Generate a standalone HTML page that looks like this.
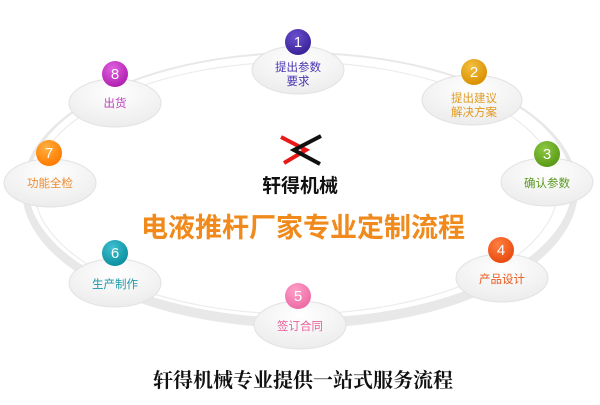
<!DOCTYPE html>
<html><head><meta charset="utf-8"><style>
html,body{margin:0;padding:0;background:#fff;}
body{width:600px;height:400px;overflow:hidden;}
</style></head><body>
<svg width="600" height="400" viewBox="0 0 600 400" xmlns="http://www.w3.org/2000/svg" font-family="Liberation Sans, Noto Sans CJK SC, sans-serif">
<defs>
<radialGradient id="eg" cx="50%" cy="30%" r="70%"><stop offset="0" stop-color="#ffffff"/><stop offset="1" stop-color="#ececec"/></radialGradient>
<radialGradient id="c1" cx="40%" cy="30%" r="70%"><stop offset="0" stop-color="#6a50d0"/><stop offset="1" stop-color="#3a2298"/></radialGradient>
<radialGradient id="c2" cx="40%" cy="30%" r="70%"><stop offset="0" stop-color="#f4c040"/><stop offset="1" stop-color="#d89000"/></radialGradient>
<radialGradient id="c3" cx="40%" cy="30%" r="70%"><stop offset="0" stop-color="#8cc840"/><stop offset="1" stop-color="#5a9a18"/></radialGradient>
<radialGradient id="c4" cx="40%" cy="30%" r="70%"><stop offset="0" stop-color="#ff8040"/><stop offset="1" stop-color="#e84a10"/></radialGradient>
<radialGradient id="c5" cx="40%" cy="30%" r="70%"><stop offset="0" stop-color="#ffa0c8"/><stop offset="1" stop-color="#ec6aa4"/></radialGradient>
<radialGradient id="c6" cx="40%" cy="30%" r="70%"><stop offset="0" stop-color="#40c0d0"/><stop offset="1" stop-color="#0a90a0"/></radialGradient>
<radialGradient id="c7" cx="40%" cy="30%" r="70%"><stop offset="0" stop-color="#ffb040"/><stop offset="1" stop-color="#ff7a00"/></radialGradient>
<radialGradient id="c8" cx="40%" cy="30%" r="70%"><stop offset="0" stop-color="#e060e0"/><stop offset="1" stop-color="#b020b0"/></radialGradient>
</defs>
<!-- ring -->
<ellipse cx="300" cy="190" rx="278" ry="138" fill="#e8e8e8"/>
<ellipse cx="300" cy="186" rx="272" ry="132" fill="#fff"/>
<ellipse cx="296" cy="188" rx="262" ry="126" fill="none" stroke="#ececec" stroke-width="1.2"/>

<g stroke="#e2e2e2" stroke-width="1" fill="url(#eg)">
<ellipse cx="298" cy="70" rx="46" ry="24"/>
<ellipse cx="472" cy="100" rx="50" ry="25"/>
<ellipse cx="547" cy="182" rx="46" ry="24"/>
<ellipse cx="502" cy="278" rx="46" ry="24"/>
<ellipse cx="300" cy="325" rx="46" ry="24"/>
<ellipse cx="115" cy="283" rx="46" ry="24"/>
<ellipse cx="50" cy="183" rx="46" ry="24"/>
<ellipse cx="115" cy="103" rx="46" ry="24"/>
</g>
<g font-size="15" fill="#fff" text-anchor="middle">
<circle cx="298" cy="42" r="13" fill="url(#c1)"/><text x="298" y="47">1</text>
<circle cx="474" cy="72" r="13" fill="url(#c2)"/><text x="474" y="77">2</text>
<circle cx="547" cy="154" r="13" fill="url(#c3)"/><text x="547" y="159">3</text>
<circle cx="501" cy="250" r="13" fill="url(#c4)"/><text x="501" y="255">4</text>
<circle cx="298" cy="296" r="13" fill="url(#c5)"/><text x="298" y="301">5</text>
<circle cx="115" cy="253" r="13" fill="url(#c6)"/><text x="115" y="258">6</text>
<circle cx="49" cy="153" r="13" fill="url(#c7)"/><text x="49" y="158">7</text>
<circle cx="115" cy="74" r="13" fill="url(#c8)"/><text x="115" y="79">8</text>
</g>
<g font-size="11.5" text-anchor="middle">
<text x="298" y="71" fill="#4a35b0">提出参数</text><text x="298" y="85" fill="#4a35b0">要求</text>
<text x="474" y="102" fill="#e09a20">提出建议</text><text x="474" y="116" fill="#e09a20">解决方案</text>
<text x="547" y="187" fill="#5a9a20">确认参数</text>
<text x="502" y="283" fill="#ea5a20">产品设计</text>
<text x="300" y="330" fill="#e8609a">签订合同</text>
<text x="115" y="288" fill="#1a98a8">生产制作</text>
<text x="50" y="187" fill="#f08a30">功能全检</text>
<text x="115" y="107" fill="#c040c0">出货</text>
</g>
<!-- logo -->
<polyline points="281,137 306,150 284,163" fill="none" stroke="#e81818" stroke-width="4"/>
<polyline points="321,136 294,150 320,164" fill="none" stroke="#111" stroke-width="4"/>
<text x="300" y="192" font-size="19" font-weight="bold" text-anchor="middle" fill="#111">轩得机械</text>
<text x="303" y="237" font-size="27" font-weight="bold" text-anchor="middle" fill="#f08a1c">电液推杆厂家专业定制流程</text>
<text x="303" y="387" font-size="20" font-weight="bold" text-anchor="middle" fill="#111" font-family="Liberation Serif, Noto Serif CJK SC, serif">轩得机械专业提供一站式服务流程</text>
</svg>
</body></html>
